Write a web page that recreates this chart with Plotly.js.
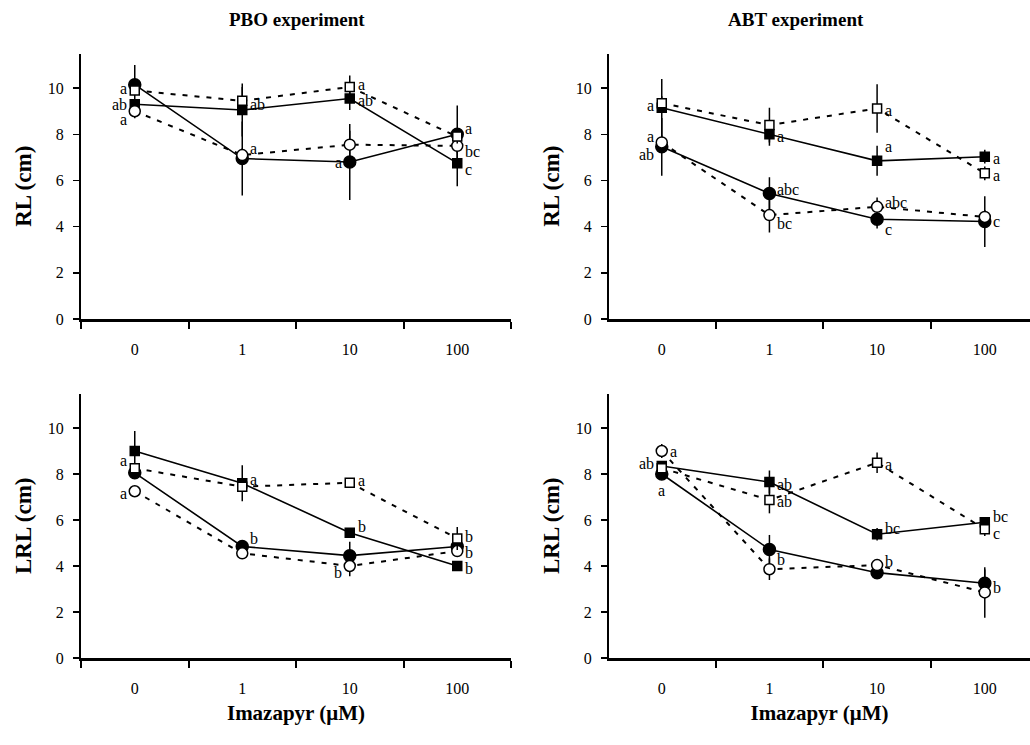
<!DOCTYPE html>
<html>
<head>
<meta charset="utf-8">
<script src="https://cdn.plot.ly/plotly-3.0.1.min.js"></script>
<style>html,body{margin:0;padding:0;background:#fff}#chart{width:1030px;height:745px}</style>
</head>
<body>
<div id="chart"></div>
<script>
// Imazapyr concentrations (µM)
const categories = ['0', '1', '10', '100'];

// PBO experiment – RL (cm)
const pboRL_filledSquare = [9.3, 9.05, 9.55, 6.75];
const pboRL_filledSquareErr = [0.2, 1.15, 0.5, 1.0];
const pboRL_openSquare = [9.9, 9.45, 10.05, 7.9];
const pboRL_openSquareErr = [0.2, 0.6, 0.5, 0.3];
const pboRL_filledCircle = [10.15, 6.95, 6.8, 8.0];
const pboRL_filledCircleErr = [0.85, 1.6, 1.65, 1.25];
const pboRL_openCircle = [9.0, 7.1, 7.55, 7.5];
const pboRL_openCircleErr = [0.3, 0.3, 0.6, 0.3];

// ABT experiment – RL (cm)
const abtRL_filledSquare = [9.15, 8.0, 6.85, 7.03];
const abtRL_filledSquareErr = [1.25, 0.5, 0.65, 0.3];
const abtRL_openSquare = [9.35, 8.4, 9.12, 6.31];
const abtRL_openSquareErr = [0.3, 0.75, 1.05, 0.3];
const abtRL_filledCircle = [7.46, 5.44, 4.32, 4.22];
const abtRL_filledCircleErr = [1.25, 0.7, 0.4, 1.1];
const abtRL_openCircle = [7.65, 4.5, 4.86, 4.42];
const abtRL_openCircleErr = [0.3, 0.75, 0.4, 0.3];

// PBO experiment – LRL (cm)
const pboLRL_filledSquare = [9.0, 7.6, 5.45, 4.0];
const pboLRL_filledSquareErr = [0.87, 0.78, 0.2, 0.2];
const pboLRL_openSquare = [8.25, 7.45, 7.62, 5.2];
const pboLRL_openSquareErr = [0.2, 0.2, 0.15, 0.5];
const pboLRL_filledCircle = [8.05, 4.85, 4.45, 4.85];
const pboLRL_filledCircleErr = [0.2, 0.2, 0.6, 0.2];
const pboLRL_openCircle = [7.25, 4.55, 4.0, 4.65];
const pboLRL_openCircleErr = [0.1, 0.2, 0.45, 0.25];

// ABT experiment – LRL (cm)
const abtLRL_filledSquare = [8.35, 7.65, 5.38, 5.9];
const abtLRL_filledSquareErr = [0.2, 0.5, 0.27, 0.2];
const abtLRL_openSquare = [8.25, 6.87, 8.49, 5.6];
const abtLRL_openSquareErr = [0.15, 0.58, 0.45, 0.3];
const abtLRL_filledCircle = [8.0, 4.72, 3.71, 3.25];
const abtLRL_filledCircleErr = [0.15, 0.63, 0.15, 0.6];
const abtLRL_openCircle = [9.0, 3.86, 4.04, 2.85];
const abtLRL_openCircleErr = [0.3, 0.47, 0.2, 1.1];

// Significance letters per series (index = category)
const pboRL_letters = {fs: ['ab', 'ab', 'ab', 'c'], os: ['a', '', 'a', ''], fc: ['', 'a', '', 'a'], oc: ['a', '', 'a', 'bc']};
const abtRL_letters = {fs: ['a', 'a', 'a', 'a'], os: ['', '', 'a', 'a'], fc: ['ab', 'abc', 'c', 'c'], oc: ['a', 'bc', 'abc', '']};
const pboLRL_letters = {fs: ['', 'a', 'b', 'b'], os: ['a', '', 'a', 'b'], fc: ['', 'b', '', 'b'], oc: ['a', '', 'b', '']};
const abtLRL_letters = {fs: ['ab', 'ab', 'bc', 'bc'], os: ['', 'ab', 'a', 'c'], fc: ['a', '', '', 'b'], oc: ['a', 'b', 'b', '']};

// ---- styling / placement (not data) ----
const FONT = '"Liberation Serif", "Times New Roman", Times, serif';
const styles = {
  fc: {symbol: 'circle', size: 12, color: '#000', lineColor: '#000', dash: 'solid', lw: 1.6},
  fs: {symbol: 'square', size: 9, color: '#000', lineColor: '#000', dash: 'solid', lw: 1.6},
  oc: {symbol: 'circle', size: 11, color: '#fff', lineColor: '#000', dash: '5px,7px', lw: 2},
  os: {symbol: 'square', size: 9, color: '#fff', lineColor: '#000', dash: '5px,7px', lw: 2}
};
const names = {fc: 'filled circle', fs: 'filled square', oc: 'open circle', os: 'open square'};

// label placement: [side, yshift] per series/category
const pboRL_place = {fs: [['l',0],['r',6],['r',-2],['r',-6]], os: [['l',2],null,['r',2],null], fc: [null,['r',10],null,['r',6]], oc: [['l',-8],null,['l',-18],['r',-6]]};
const abtRL_place = {fs: [['l',2],['r',-2],['r',14],['r',-2]], os: [null,null,['r',-2],['r',-2]], fc: [['l',-8],['r',4],['r',-10],['r',0]], oc: [['l',6],['r',-8],['r',4],null]};
const pboLRL_place = {fs: [null,['r',4],['r',6],['r',-2]], os: [['l',8],null,['r',2],['r',2]], fc: [null,['r',8],null,['r',-6]], oc: [['l',-2],null,['l',-6],null]};
const abtLRL_place = {fs: [['l',2],['r',-2],['r',6],['r',6]], os: [null,['r',-2],['r',-2],['r',-4]], fc: [['b',-16],null,null,['r',-4]], oc: [['r',0],['r',10],['r',4],null]};

const panels = [
  {xa: 'x', ya: 'y', data: {fc: [pboRL_filledCircle, pboRL_filledCircleErr], fs: [pboRL_filledSquare, pboRL_filledSquareErr], oc: [pboRL_openCircle, pboRL_openCircleErr], os: [pboRL_openSquare, pboRL_openSquareErr]}, letters: pboRL_letters, place: pboRL_place},
  {xa: 'x2', ya: 'y2', data: {fc: [abtRL_filledCircle, abtRL_filledCircleErr], fs: [abtRL_filledSquare, abtRL_filledSquareErr], oc: [abtRL_openCircle, abtRL_openCircleErr], os: [abtRL_openSquare, abtRL_openSquareErr]}, letters: abtRL_letters, place: abtRL_place},
  {xa: 'x3', ya: 'y3', data: {fc: [pboLRL_filledCircle, pboLRL_filledCircleErr], fs: [pboLRL_filledSquare, pboLRL_filledSquareErr], oc: [pboLRL_openCircle, pboLRL_openCircleErr], os: [pboLRL_openSquare, pboLRL_openSquareErr]}, letters: pboLRL_letters, place: pboLRL_place},
  {xa: 'x4', ya: 'y4', data: {fc: [abtLRL_filledCircle, abtLRL_filledCircleErr], fs: [abtLRL_filledSquare, abtLRL_filledSquareErr], oc: [abtLRL_openCircle, abtLRL_openCircleErr], os: [abtLRL_openSquare, abtLRL_openSquareErr]}, letters: abtLRL_letters, place: abtLRL_place}
];

const order = ['fc', 'fs', 'oc', 'os'];
const traces = [];
const annotations = [];
panels.forEach(p => {
  order.forEach(k => {
    const st = styles[k];
    const [vals, errs] = p.data[k];
    traces.push({
      type: 'scatter', mode: 'lines+markers', name: names[k],
      x: categories, y: vals, xaxis: p.xa, yaxis: p.ya,
      line: {color: '#000', width: st.lw, dash: st.dash},
      marker: {symbol: st.symbol, size: st.size, color: st.color, line: {color: st.lineColor, width: 1.5}},
      error_y: {type: 'data', array: errs, visible: true, color: '#000', thickness: 1.5, width: 0},
      cliponaxis: false, hoverinfo: 'x+y'
    });
    p.letters[k].forEach((txt, i) => {
      if (!txt) return;
      const pl = p.place[k][i] || ['r', 0];
      const side = pl[0];
      annotations.push({
        xref: p.xa, yref: p.ya, x: i, y: vals[i], text: txt, showarrow: false,
        xanchor: side === 'r' ? 'left' : (side === 'l' ? 'right' : 'center'),
        xshift: side === 'r' ? 6 : (side === 'l' ? -6 : 0),
        yshift: pl[1], font: {family: FONT, size: 16, color: '#000'}
      });
    });
  });
});

annotations.push({xref: 'paper', yref: 'paper', x: 297/1030, y: 1 - 20/745, text: '<b>PBO experiment</b>', showarrow: false, xanchor: 'center', yanchor: 'middle', font: {family: FONT, size: 19, color: '#000'}});
annotations.push({xref: 'paper', yref: 'paper', x: 796/1030, y: 1 - 20/745, text: '<b>ABT experiment</b>', showarrow: false, xanchor: 'center', yanchor: 'middle', font: {family: FONT, size: 19, color: '#000'}});

function xAxis(domain, anchor, range, withTitle) {
  const ax = {
    domain: domain, anchor: anchor, type: 'category', range: range,
    showline: true, linewidth: 2.5, linecolor: '#000',
    ticks: 'outside', tickson: 'boundaries', ticklen: 7, tickwidth: 2, tickcolor: '#000',
    ticklabelstandoff: 14,
    showgrid: false, zeroline: false, fixedrange: true,
    tickfont: {family: FONT, size: 16, color: '#000'}
  };
  if (withTitle) ax.title = {text: '<b>Imazapyr (μM)</b>', font: {family: FONT, size: 21, color: '#000'}, standoff: 10};
  return ax;
}
function yAxis(domain, anchor, title) {
  return {
    domain: domain, anchor: anchor, range: [0, 11.5],
    tickvals: [0, 2, 4, 6, 8, 10],
    showline: true, linewidth: 2, linecolor: '#000',
    ticks: 'outside', ticklen: 6, tickwidth: 1.5, tickcolor: '#000',
    ticklabelstandoff: 6,
    showgrid: false, zeroline: false, fixedrange: true,
    tickfont: {family: FONT, size: 16, color: '#000'},
    title: {text: '<b>' + title + '</b>', font: {family: FONT, size: 23, color: '#000'}, standoff: 10}
  };
}

const leftDom = [81/1030, 511/1030];
const rightDom = [609/1030, 1];
const topDom = [1 - 319/745, 1 - 53.5/745];
const botDom = [1 - 658/745, 1 - 393.5/745];

const layout = {
  width: 1030, height: 745,
  margin: {l: 0, r: 0, t: 0, b: 0},
  paper_bgcolor: '#fff', plot_bgcolor: '#fff',
  showlegend: false,
  font: {family: FONT, color: '#000', size: 15},
  xaxis: xAxis(leftDom, 'y', [-0.5, 3.5], false),
  yaxis: yAxis(topDom, 'x', 'RL (cm)'),
  xaxis2: xAxis(rightDom, 'y2', [-0.49, 3.42], false),
  yaxis2: yAxis(topDom, 'x2', 'RL (cm)'),
  xaxis3: xAxis(leftDom, 'y3', [-0.5, 3.5], true),
  yaxis3: yAxis(botDom, 'x3', 'LRL (cm)'),
  xaxis4: xAxis(rightDom, 'y4', [-0.49, 3.42], true),
  yaxis4: yAxis(botDom, 'x4', 'LRL (cm)'),
  annotations: annotations
};

Plotly.newPlot('chart', traces, layout, {displayModeBar: false, staticPlot: true});
</script>
</body>
</html>
